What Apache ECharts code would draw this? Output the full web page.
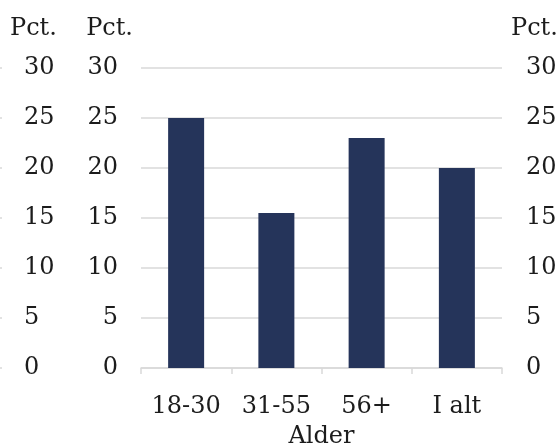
<!DOCTYPE html>
<html>
<head>
<meta charset="utf-8">
<script src="https://cdn.jsdelivr.net/npm/echarts@6/dist/echarts.min.js"></script>
<style>html,body{margin:0;padding:0;background:#fff}#c{width:560px;height:448px}</style>
</head>
<body>
<div id="c"></div>
<script>
var categories = ['18-30', '31-55', '56+', 'I alt'];
var values = [25, 15.5, 23, 20];
var yTicks = [0, 5, 10, 15, 20, 25, 30];
var axisUnit = 'Pct.';
var xName = 'Alder';

var FONT = 'DejaVu Serif';
var FS = 24;
var TXT = '#1c1c1c';
var GRID = '#d9d9d9';

var yMin = yTicks[0], yMax = yTicks[yTicks.length - 1], yStep = yTicks[1] - yTicks[0];

function yAxisBase(extra) {
  var a = {
    type: 'value', min: yMin, max: yMax, interval: yStep,
    name: axisUnit, nameLocation: 'end',
    axisLine: { show: false }, axisTick: { show: false },
    splitLine: { show: false },
    axisLabel: { color: TXT, fontFamily: FONT, fontSize: FS },
    nameGap: 39
  };
  for (var k in extra) a[k] = extra[k];
  return a;
}

var chart = echarts.init(document.getElementById('c'), null, { renderer: 'canvas' });
chart.setOption({
  animation: false,
  backgroundColor: '#ffffff',
  grid: [
    { left: 141, right: 58, top: 68, bottom: 80, outerBoundsMode: 'none', containLabel: false },
    { left: -100, right: 558, top: 68, bottom: 80, outerBoundsMode: 'none', containLabel: false }
  ],
  xAxis: [
    {
      gridIndex: 0, type: 'category', data: categories,
      name: xName, nameLocation: 'middle', nameGap: 57,
      nameTextStyle: { color: TXT, fontFamily: FONT, fontSize: FS },
      axisLine: { show: true, lineStyle: { color: GRID, width: 1.5 } },
      axisTick: { show: true, length: 6, lineStyle: { color: GRID, width: 1.5 } },
      axisLabel: { color: TXT, fontFamily: FONT, fontSize: FS, margin: 27 }
    },
    {
      gridIndex: 1, type: 'category', data: [''], show: false
    }
  ],
  yAxis: [
    yAxisBase({
      gridIndex: 0, position: 'left',
      splitLine: { show: true, lineStyle: { color: GRID, width: 1.5 } },
      axisLabel: { color: TXT, fontFamily: FONT, fontSize: FS, margin: 23 },
      nameTextStyle: { color: TXT, fontFamily: FONT, fontSize: FS, verticalAlign: 'middle', align: 'right', padding: [0, 8, 0, 0] }
    }),
    yAxisBase({
      gridIndex: 0, position: 'right',
      axisLabel: { color: TXT, fontFamily: FONT, fontSize: FS, margin: 24 },
      nameTextStyle: { color: TXT, fontFamily: FONT, fontSize: FS, verticalAlign: 'middle', align: 'left', padding: [0, 0, 0, 9] }
    }),
    yAxisBase({
      gridIndex: 1, position: 'right',
      splitLine: { show: true, lineStyle: { color: GRID, width: 1.5 } },
      axisLabel: { color: TXT, fontFamily: FONT, fontSize: FS, margin: 22 },
      nameTextStyle: { color: TXT, fontFamily: FONT, fontSize: FS, verticalAlign: 'middle', align: 'left', padding: [0, 0, 0, 8] }
    })
  ],
  series: [
    {
      type: 'bar', xAxisIndex: 0, yAxisIndex: 0,
      data: values, barWidth: 36,
      itemStyle: { color: '#25345a' }
    }
  ]
});
</script>
</body>
</html>
